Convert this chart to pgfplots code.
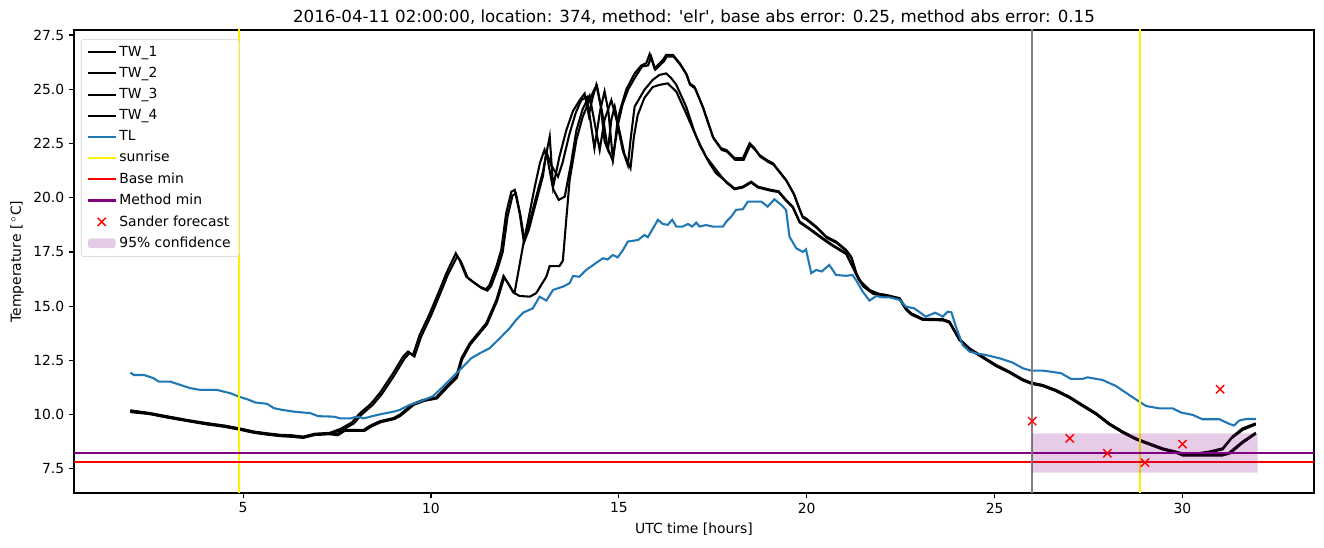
\documentclass[border=0pt]{standalone}
\usepackage{fontspec}
\setmainfont{DejaVu Sans}
\usepackage{pgfplots}
\pgfplotsset{compat=1.18}
\definecolor{tlblue}{HTML}{1F77B4}
\definecolor{mplpurple}{HTML}{800080}
\definecolor{mplgray}{HTML}{808080}
\pgfplotsset{
  linelegend/.style={legend image code/.code={\draw[##1] plot coordinates {(0pt,0pt) (20pt,0pt)};}},
  marklegend/.style={legend image code/.code={\draw[##1] plot coordinates {(10pt,0pt)};}},
  patchlegend/.style={legend image code/.code={\fill[##1] (0pt,-3.5pt) rectangle (20pt,3.5pt);}},
}
\begin{document}
\begin{tikzpicture}
\path[use as bounding box] (-53.28pt,-38.88pt) rectangle (900pt,354.96pt);
\begin{axis}[
  at={(0pt,0pt)}, anchor=south west,
  scale only axis, width=892.8pt, height=333.36pt,
  xmin=0.5, xmax=33.5, ymin=6.39, ymax=27.73,
  xtick={5,10,15,20,25,30},
  ytick={7.5,10,12.5,15,17.5,20,22.5,25,27.5},
  yticklabel style={/pgf/number format/.cd, fixed, fixed zerofill, precision=1},
  /pgf/number format/assume math mode=true,
  xtick pos=lower, ytick pos=left, tick align=outside,
  major tick length=3.5pt,
  every tick/.style={black, line width=0.8pt},
  axis line style={line width=0.8pt},
  tick label style={font=\fontsize{10}{12}\selectfont},
  label style={font=\fontsize{10}{12}\selectfont},
  xlabel={UTC time [hours]},
  ylabel={Temperature [\,$^{\circ}$C]},
  title={2016-04-11 02:00:00, location: 374, method: \textquotesingle elr\textquotesingle, base abs error: 0.25, method abs error: 0.15},
  title style={font=\fontsize{12}{14}\selectfont, yshift=-5.6pt},
  legend cell align=left,
  legend style={at={(0,1)}, anchor=north west, xshift=5pt, yshift=-6.5pt,
    draw=black!20, rounded corners=2pt, fill=white, fill opacity=0.8, text opacity=1,
    font=\fontsize{10}{12}\selectfont, row sep=2.3pt, inner xsep=4pt, inner ysep=3pt},
  linelegend,
  every axis plot/.append style={line width=1.5pt},
  clip=true,
]
% TW_1
\addplot[black] coordinates {(2.0,10.2) (2.5,10.08) (3.0,9.92) (3.5,9.76) (4.0,9.62) (4.5,9.5) (4.87,9.38) (5.3,9.22) (5.64,9.14) (6.0,9.07) (6.3,9.05) (6.6,8.99) (6.9,9.12) (7.3,9.16) (7.6,9.35) (7.9,9.65) (8.1,10.05) (8.4,10.5) (8.64,11.0) (8.99,11.91) (9.26,12.68) (9.39,12.91) (9.52,12.75) (9.7,13.68) (9.97,14.67) (10.23,15.75) (10.41,16.52) (10.66,17.44) (10.76,17.13) (10.94,16.36) (11.12,16.13) (11.3,15.9) (11.46,15.78) (11.56,15.98) (11.74,16.82) (11.87,17.59) (12.0,19.28) (12.14,20.28) (12.23,20.36) (12.36,19.28) (12.47,17.98) (12.58,18.59) (12.8,20.05) (12.98,21.2) (13.1,22.3) (13.16,22.82) (13.25,20.5) (13.42,21.9) (13.6,23.1) (13.78,24.0) (13.96,24.5) (14.09,24.8) (14.2,23.8) (14.3,24.6) (14.4,25.2) (14.55,24.0) (14.7,22.3) (14.84,21.7) (14.97,23.6) (15.06,24.2) (15.2,25.0) (15.42,25.73) (15.6,26.1) (15.73,26.2) (15.82,26.62) (15.95,25.96) (16.17,26.35) (16.26,26.58) (16.44,26.58) (16.62,26.2) (16.79,25.73) (16.88,25.27) (17.01,25.12) (17.23,24.2) (17.5,22.81) (17.72,22.28) (17.86,22.2) (18.08,21.82) (18.3,21.82) (18.48,22.51) (18.6,22.3) (18.74,21.97) (18.96,21.71) (19.1,21.59) (19.45,20.82) (19.65,20.2) (19.8,19.5) (19.88,19.15) (19.98,19.05) (20.25,18.67) (20.52,18.21) (20.78,17.98) (21.05,17.59) (21.18,17.28) (21.31,16.52) (21.49,15.95) (21.76,15.6) (22.11,15.52) (22.47,15.37) (22.64,14.9) (22.78,14.67) (23.09,14.42) (23.62,14.4) (23.8,14.29) (24.06,13.5) (24.33,13.06) (24.68,12.68) (25.04,12.29) (25.39,11.99) (25.75,11.63) (25.97,11.48) (26.28,11.37) (26.63,11.14) (26.99,10.83) (27.34,10.45) (27.7,10.07) (28.05,9.6) (28.41,9.22) (28.76,8.91) (29.11,8.68) (29.47,8.45) (29.82,8.3) (30.0,8.22) (30.4,8.22) (30.71,8.3) (31.07,8.45) (31.33,8.99) (31.6,9.37) (31.95,9.6)};
\addlegendentry{TW\_1}
% TW_2
\addplot[black] coordinates {(2.0,10.15) (2.5,10.05) (3.0,9.88) (3.5,9.73) (4.0,9.58) (4.5,9.46) (4.87,9.34) (5.3,9.18) (5.64,9.1) (6.0,9.03) (6.3,9.0) (6.6,8.95) (6.9,9.08) (7.3,9.12) (7.65,9.3) (7.95,9.6) (8.15,10.0) (8.45,10.45) (8.68,10.92) (9.03,11.83) (9.3,12.6) (9.43,12.84) (9.56,12.68) (9.74,13.6) (10.01,14.6) (10.27,15.68) (10.45,16.45) (10.7,17.3) (10.8,17.05) (10.98,16.3) (11.16,16.06) (11.34,15.84) (11.5,15.72) (11.6,15.92) (11.78,16.75) (11.91,17.5) (12.04,19.15) (12.17,20.1) (12.26,20.2) (12.38,19.2) (12.49,18.0) (12.6,18.5) (12.82,19.95) (12.98,21.0) (13.07,22.12) (13.2,21.5) (13.38,20.97) (13.5,21.6) (13.68,22.9) (13.85,23.9) (14.0,24.5) (14.15,24.65) (14.35,22.28) (14.5,24.0) (14.62,24.9) (14.72,24.0) (14.84,21.8) (14.98,23.4) (15.1,24.3) (15.25,25.0) (15.45,25.6) (15.62,26.05) (15.78,26.1) (15.86,26.5) (15.97,25.9) (16.19,26.27) (16.28,26.5) (16.46,26.5) (16.64,26.12) (16.81,25.65) (16.9,25.2) (17.03,25.04) (17.25,24.12) (17.52,22.73) (17.74,22.2) (17.88,22.12) (18.1,21.74) (18.32,21.74) (18.5,22.43) (18.62,22.22) (18.76,21.9) (18.98,21.64) (19.12,21.52) (19.47,20.75) (19.67,20.13) (19.82,19.43) (19.9,19.08) (20.0,18.98) (20.27,18.6) (20.54,18.14) (20.8,17.91) (21.07,17.52) (21.2,17.21) (21.33,16.47) (21.51,15.9) (21.78,15.56) (22.11,15.48) (22.47,15.33) (22.64,14.86) (22.78,14.63) (23.09,14.38) (23.62,14.36) (23.8,14.25) (24.06,13.46) (24.33,13.02) (24.68,12.64) (25.04,12.25) (25.39,11.95) (25.75,11.59) (25.97,11.44) (26.28,11.33) (26.63,11.1) (26.99,10.79) (27.34,10.41) (27.7,10.03) (28.05,9.56) (28.41,9.18) (28.76,8.87) (29.11,8.64) (29.47,8.41) (29.82,8.26) (30.0,8.2) (30.4,8.2) (30.71,8.26) (31.07,8.4) (31.3,8.9) (31.6,9.3) (31.95,9.55)};
\addlegendentry{TW\_2}
% TW_3
\addplot[black] coordinates {(2.0,10.18) (2.5,10.06) (3.0,9.9) (3.5,9.74) (4.0,9.6) (4.5,9.48) (4.87,9.36) (5.3,9.2) (5.64,9.12) (6.0,9.05) (6.3,9.02) (6.6,8.97) (6.9,9.1) (7.3,9.14) (7.5,9.1) (7.68,9.3) (8.21,9.3) (8.39,9.5) (8.64,9.7) (9.01,9.85) (9.17,10.0) (9.52,10.5) (9.79,10.68) (10.14,10.8) (10.41,11.3) (10.67,11.75) (10.81,12.6) (11.03,13.29) (11.47,14.21) (11.74,15.29) (11.93,16.39) (12.05,16.06) (12.18,15.67) (12.23,15.67) (12.47,17.98) (12.58,18.9) (12.75,20.4) (12.9,21.6) (13.02,22.2) (13.1,21.8) (13.25,20.4) (13.4,19.9) (13.56,20.05) (13.73,21.6) (13.87,23.1) (14.04,24.1) (14.22,24.7) (14.35,23.5) (14.49,22.2) (14.62,23.6) (14.8,24.5) (14.95,23.5) (15.1,22.2) (15.24,21.5) (15.32,22.8) (15.42,24.2) (15.68,24.97) (15.9,25.43) (16.08,25.66) (16.26,25.73) (16.4,25.5) (16.53,25.2) (16.79,24.2) (17.0,23.1) (17.15,22.43) (17.41,21.59) (17.59,21.12) (17.86,20.74) (18.08,20.43) (18.3,20.51) (18.52,20.74) (18.7,20.51) (19.05,20.36) (19.25,20.3) (19.45,19.9) (19.63,19.59) (19.81,18.9) (20.07,18.59) (20.43,18.13) (20.69,17.82) (21.05,17.44) (21.14,17.13) (21.4,16.21) (21.67,15.75) (21.9,15.58) (22.11,15.5) (22.47,15.35) (22.64,14.88) (22.78,14.65) (23.09,14.4) (23.62,14.38) (23.8,14.27) (24.06,13.48) (24.33,13.04) (24.68,12.66) (25.04,12.27) (25.39,11.97) (25.75,11.61) (25.97,11.46) (26.28,11.35) (26.63,11.12) (26.99,10.81) (27.34,10.43) (27.7,10.05) (28.05,9.58) (28.41,9.2) (28.76,8.89) (29.11,8.66) (29.47,8.43) (29.82,8.28) (30.0,8.14) (30.5,8.14) (31.07,8.14) (31.24,8.25) (31.6,8.76) (31.95,9.17)};
\addlegendentry{TW\_3}
% TW_4
\addplot[black] coordinates {(2.0,10.12) (2.5,10.03) (3.0,9.86) (3.5,9.71) (4.0,9.56) (4.5,9.44) (4.87,9.32) (5.3,9.16) (5.64,9.08) (6.0,9.01) (6.3,8.98) (6.6,8.93) (6.9,9.06) (7.3,9.1) (7.52,9.05) (7.7,9.25) (8.23,9.25) (8.41,9.45) (8.66,9.65) (9.03,9.8) (9.19,9.95) (9.54,10.45) (9.81,10.63) (10.16,10.75) (10.43,11.25) (10.69,11.7) (10.83,12.55) (11.05,13.24) (11.49,14.16) (11.76,15.24) (11.95,16.33) (12.07,16.0) (12.2,15.62) (12.36,15.47) (12.63,15.44) (12.8,15.6) (13.07,16.36) (13.16,16.85) (13.42,16.85) (13.51,17.1) (13.6,18.98) (13.69,20.82) (13.87,22.66) (14.04,23.74) (14.22,24.5) (14.35,25.0) (14.42,25.15) (14.52,24.2) (14.62,22.6) (14.71,22.2) (14.8,23.6) (14.89,24.2) (15.0,23.2) (15.15,22.0) (15.31,21.36) (15.4,22.8) (15.5,23.8) (15.68,24.6) (15.9,25.1) (16.08,25.2) (16.3,25.27) (16.53,24.89) (16.79,23.89) (17.06,22.81) (17.32,21.89) (17.68,21.08) (17.86,20.7) (18.08,20.39) (18.3,20.47) (18.52,20.7) (18.7,20.47) (19.05,20.32) (19.25,20.26) (19.45,19.86) (19.63,19.55) (19.81,18.86) (20.07,18.55) (20.43,18.09) (20.69,17.78) (21.05,17.4) (21.14,17.09) (21.4,16.17) (21.67,15.71) (21.9,15.54) (22.11,15.47) (22.47,15.32) (22.64,14.85) (22.78,14.62) (23.09,14.37) (23.62,14.35) (23.8,14.24) (24.06,13.45) (24.33,13.01) (24.68,12.63) (25.04,12.24) (25.39,11.94) (25.75,11.58) (25.97,11.43) (26.28,11.32) (26.63,11.09) (26.99,10.78) (27.34,10.4) (27.7,10.02) (28.05,9.55) (28.41,9.17) (28.76,8.86) (29.11,8.63) (29.47,8.4) (29.82,8.25) (30.0,8.12) (30.5,8.12) (31.07,8.12) (31.27,8.22) (31.6,8.7) (31.95,9.12)};
\addlegendentry{TW\_4}
% TL
\addplot[tlblue] coordinates {(2.0,11.94) (2.09,11.83) (2.36,11.83) (2.62,11.68) (2.76,11.52) (3.07,11.52) (3.33,11.37) (3.6,11.22) (3.87,11.14) (4.31,11.14) (4.49,11.06) (4.66,10.99) (4.89,10.83) (5.11,10.71) (5.33,10.56) (5.64,10.5) (5.82,10.3) (6.04,10.22) (6.35,10.14) (6.79,10.07) (7.0,9.93) (7.41,9.91) (7.59,9.83) (7.86,9.83) (8.03,9.91) (8.21,9.83) (8.48,9.95) (8.74,10.05) (9.01,10.14) (9.17,10.22) (9.43,10.45) (9.7,10.6) (10.05,10.85) (10.23,11.14) (10.5,11.6) (10.63,11.83) (10.85,12.21) (11.07,12.6) (11.3,12.83) (11.56,13.06) (11.83,13.52) (12.09,13.98) (12.27,14.37) (12.45,14.7) (12.71,14.9) (12.89,15.44) (13.07,15.26) (13.25,15.75) (13.51,15.9) (13.69,16.06) (13.78,16.39) (13.95,16.36) (14.13,16.67) (14.44,17.05) (14.58,17.21) (14.7,17.15) (14.84,17.36) (14.97,17.25) (15.11,17.59) (15.24,17.98) (15.51,18.05) (15.68,18.28) (15.77,18.18) (15.91,18.59) (16.04,18.98) (16.17,18.79) (16.3,18.75) (16.42,18.98) (16.53,18.67) (16.7,18.67) (16.84,18.79) (16.95,18.67) (17.06,18.85) (17.15,18.67) (17.32,18.74) (17.5,18.67) (17.77,18.67) (17.86,18.9) (17.99,19.13) (18.12,19.44) (18.3,19.47) (18.43,19.82) (18.79,19.82) (18.96,19.59) (19.14,19.93) (19.32,19.67) (19.45,19.44) (19.54,18.21) (19.72,17.67) (19.9,17.5) (19.98,17.62) (20.12,16.52) (20.25,16.67) (20.4,16.6) (20.6,16.9) (20.78,16.44) (21.05,16.4) (21.22,16.44) (21.31,16.21) (21.49,15.67) (21.67,15.26) (21.85,15.47) (22.0,15.41) (22.2,15.41) (22.47,15.29) (22.64,14.98) (22.86,14.9) (23.17,14.52) (23.42,14.7) (23.62,14.52) (23.75,14.75) (23.85,14.72) (23.97,14.06) (24.15,13.21) (24.33,12.91) (24.5,12.83) (24.77,12.75) (25.13,12.6) (25.48,12.4) (25.75,12.14) (25.97,12.03) (26.28,12.03) (26.5,11.98) (26.77,11.91) (27.03,11.65) (27.34,11.65) (27.47,11.72) (27.87,11.6) (28.23,11.32) (28.58,10.91) (28.85,10.6) (29.03,10.4) (29.38,10.29) (29.74,10.29) (29.96,10.1) (30.27,9.99) (30.53,9.79) (30.98,9.79) (31.24,9.58) (31.37,9.5) (31.51,9.73) (31.69,9.8) (31.95,9.8)};
\addlegendentry{TL}
% sunrise
\addplot[yellow] coordinates {(4.88,0) (4.88,40)};
\addlegendentry{sunrise}
\addplot[yellow, forget plot] coordinates {(28.87,0) (28.87,40)};
% base min
\addplot[red] coordinates {(-10,7.82) (50,7.82)};
\addlegendentry{Base min}
% method min
\addplot[mplpurple] coordinates {(-10,8.24) (50,8.24)};
\addlegendentry{Method min}
% gray line
\addplot[mplgray, forget plot] coordinates {(26,0) (26,40)};
% Sander forecast
\addplot[red, only marks, mark=x, mark size=4.2pt, line width=1pt, marklegend]
  coordinates {(26,9.70) (27,8.91) (28,8.22) (29,7.79) (30,8.64) (31,11.17)};
\addlegendentry{Sander forecast}
% confidence band
\addplot[draw=none, fill=mplpurple, fill opacity=0.2, patchlegend]
  coordinates {(26,7.33) (32,7.33) (32,9.14) (26,9.14) (26,7.33)};
\addlegendentry{95\% confidence}
\end{axis}
\end{tikzpicture}
\end{document}
